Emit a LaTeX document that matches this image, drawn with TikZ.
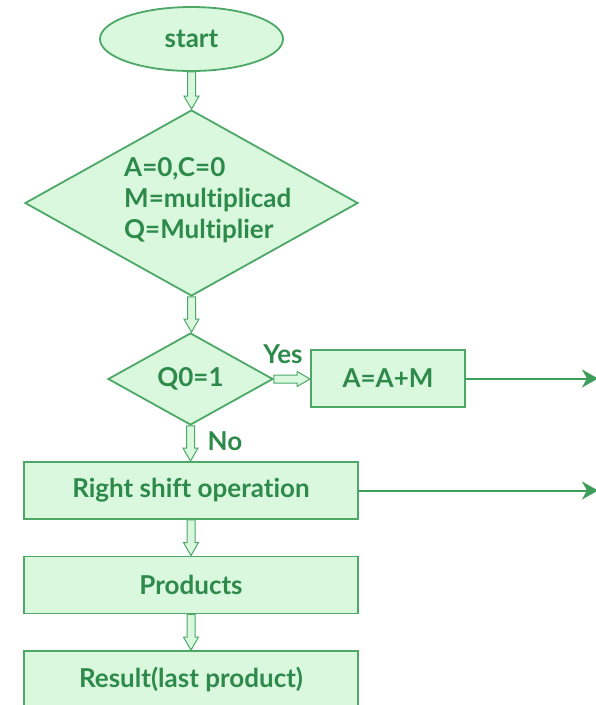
\documentclass[tikz,border=0pt]{standalone}
\usepackage{fontspec}
\setmainfont{Lato}[Ligatures={NoCommon}]
\usetikzlibrary{shapes.geometric,arrows.meta,calc}
\definecolor{gfill}{HTML}{D9F8DD}
\definecolor{gline}{HTML}{4DA867}
\definecolor{gtext}{HTML}{2E8A4B}
\definecolor{garrow}{HTML}{3C9E5A}
\tikzset{
  base/.style={draw=gline, fill=gfill, line width=1.8pt, text=gtext, font=\fontsize{26}{31}\selectfont\bfseries, inner sep=0pt},
  procbox/.style={base, rectangle, minimum height=57pt},
  decbox/.style={base, diamond},
  termbox/.style={base, ellipse, minimum width=183pt, minimum height=64pt},
  lbl/.style={text=gtext, font=\fontsize{26}{31}\selectfont\bfseries, inner sep=0pt},
  harr/.style={draw=gline, fill=gfill, line width=1pt, line join=miter},
  flow/.style={draw=garrow, line width=2pt, -{Stealth[length=16pt,width=18pt,inset=5pt]}}
}
\newcommand\hdown[2]{\path[harr] let \p1=(#1), \p2=(#2) in
  (\x1-4pt,\y1) -- (\x1-4pt,\y2+13pt) -- (\x1-7.5pt,\y2+13pt) -- (\x1,\y2)
  -- (\x1+7.5pt,\y2+13pt) -- (\x1+4pt,\y2+13pt) -- (\x1+4pt,\y1) -- cycle;}
\newcommand\hright[2]{\path[harr] let \p1=(#1), \p2=(#2) in
  (\x1,\y1+4pt) -- (\x2-13pt,\y1+4pt) -- (\x2-13pt,\y1+7.5pt) -- (\x2,\y1)
  -- (\x2-13pt,\y1-7.5pt) -- (\x2-13pt,\y1-4pt) -- (\x1,\y1-4pt) -- cycle;}
\begin{document}
\begin{tikzpicture}[x=1pt,y=-1pt]
\clip (0,0) rectangle (596,705);
\fill[white] (0,0) rectangle (596,705);
% nodes
\node[termbox] (start) at (191.5,39) {start};
\node[decbox, minimum width=333pt, minimum height=186pt] (d1) at (191.5,203) {};
\node[lbl, anchor=west, align=left] (d1t) at (124,200) {A=0,C=0\\M=multiplicad\\Q=Multiplier};
\node[decbox, minimum width=165pt, minimum height=92pt] (d2) at (190.5,379) {};
\node[lbl] (d2t) at (d2.center) {Q0=1};
\node[procbox, minimum width=154pt] (add) at (388,378.5) {A=A+M};
\node[procbox, minimum width=334pt] (shift) at (191,490.5) {Right shift operation};
\node[procbox, minimum width=334pt] (prod) at (191,585) {Products};
\node[procbox, minimum width=334pt] (res) at (191,679.5) {Result(last product)};
\node[lbl] (yes) at (283,354) {Yes};
\node[lbl] (no) at (225,441) {No};
\coordinate (o1) at (598,378.5);
\coordinate (o2) at (598,490.5);
% connectors
\hdown{start.south}{d1.north}
\hdown{d1.south}{d2.north}
\hright{d2.east}{add.west}
\hdown{d2.south}{shift.north}
\hdown{shift.south}{prod.north}
\hdown{prod.south}{res.north}
\draw[flow] (add.east) -- (o1);
\draw[flow] (shift.east) -- (o2);
\end{tikzpicture}
\end{document}
